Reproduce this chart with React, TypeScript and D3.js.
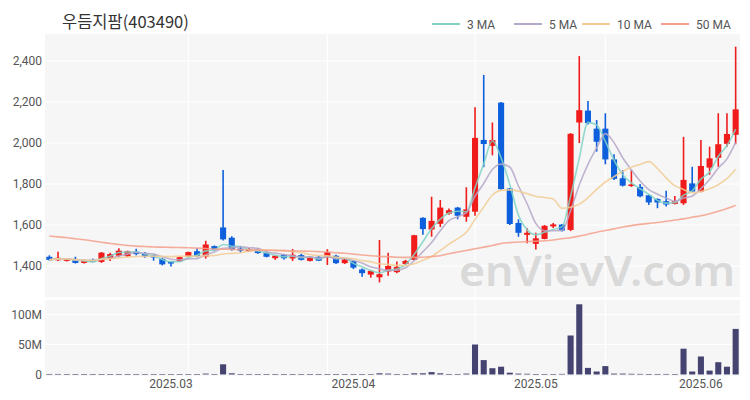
import React from 'react';
import * as d3 from 'd3';

const title = '우듬지팜(403490)';

const dates = [
  '2025-02-11','2025-02-12','2025-02-13','2025-02-14','2025-02-17','2025-02-18','2025-02-19','2025-02-20','2025-02-21','2025-02-24',
  '2025-02-25','2025-02-26','2025-02-27','2025-02-28','2025-03-04','2025-03-05','2025-03-06','2025-03-07','2025-03-10','2025-03-11',
  '2025-03-12','2025-03-13','2025-03-14','2025-03-17','2025-03-18','2025-03-19','2025-03-20','2025-03-21','2025-03-24','2025-03-25',
  '2025-03-26','2025-03-27','2025-03-28','2025-03-31','2025-04-01','2025-04-02','2025-04-03','2025-04-04','2025-04-07','2025-04-08',
  '2025-04-09','2025-04-10','2025-04-11','2025-04-14','2025-04-15','2025-04-16','2025-04-17','2025-04-18','2025-04-21','2025-04-22',
  '2025-04-23','2025-04-24','2025-04-25','2025-04-28','2025-04-29','2025-04-30','2025-05-02','2025-05-07','2025-05-08','2025-05-09',
  '2025-05-12','2025-05-13','2025-05-14','2025-05-15','2025-05-16','2025-05-19','2025-05-20','2025-05-21','2025-05-22','2025-05-23',
  '2025-05-26','2025-05-27','2025-05-28','2025-05-29','2025-05-30','2025-06-02','2025-06-04','2025-06-05','2025-06-09','2025-06-10',
];

const open = [
  1445,1428,1425,1432,1415,1430,1420,1435,1450,1448,
  1470,1462,1452,1435,1422,1423,1446,1472,1446,1497,
  1588,1538,1485,1472,1480,1466,1438,1455,1437,1453,
  1425,1445,1442,1450,1414,1424,1383,1358,1345,1373,
  1370,1410,1430,1635,1578,1606,1655,1685,1640,1665,
  2015,1986,2197,1778,1610,1552,1508,1532,1593,1602,
  1576,2100,2158,2070,2070,1920,1828,1790,1786,1745,
  1727,1716,1703,1706,1803,1763,1880,1928,1996,2040,
];
const high = [
  1452,1470,1438,1445,1428,1436,1468,1465,1486,1475,
  1484,1468,1456,1440,1425,1446,1470,1486,1523,1500,
  1868,1545,1498,1488,1485,1470,1452,1458,1483,1460,
  1448,1448,1482,1455,1436,1427,1388,1380,1527,1465,
  1422,1430,1552,1638,1738,1722,1680,1688,1784,2175,
  2332,2100,2200,1780,1628,1584,1562,1600,1610,1605,
  2048,2424,2205,2112,2145,1945,1868,1868,1800,1748,
  1730,1767,1741,2030,1884,2015,1982,2145,2145,2470,
];
const low = [
  1426,1425,1422,1412,1412,1418,1415,1425,1445,1443,
  1452,1440,1426,1403,1397,1420,1443,1443,1436,1475,
  1525,1475,1465,1468,1460,1442,1430,1432,1425,1427,
  1422,1424,1405,1410,1410,1385,1348,1343,1320,1352,
  1365,1405,1428,1552,1543,1590,1650,1628,1616,1645,
  1882,1940,1772,1600,1543,1511,1480,1530,1585,1568,
  1570,2000,2090,1958,1896,1820,1788,1786,1735,1698,
  1682,1690,1700,1698,1760,1760,1845,1884,1982,1994,
];
const close = [
  1430,1440,1435,1415,1425,1420,1465,1458,1475,1472,
  1458,1446,1442,1408,1412,1443,1468,1448,1505,1480,
  1530,1480,1475,1482,1463,1445,1450,1438,1455,1430,
  1445,1426,1468,1414,1432,1392,1365,1376,1360,1400,
  1396,1425,1550,1580,1620,1685,1672,1645,1676,2025,
  1995,2014,1775,1605,1562,1562,1535,1596,1603,1573,
  2045,2160,2097,2006,1920,1825,1792,1798,1740,1710,
  1710,1700,1716,1820,1763,1888,1925,1994,2044,2164,
];
// volume in millions of shares
const volume = [
  0.6,0.9,0.4,0.5,0.3,0.3,0.8,0.5,0.7,0.5,
  0.6,0.4,0.4,0.6,0.5,0.4,0.6,0.7,1.5,0.8,
  17,2.0,0.6,0.4,0.4,0.5,0.3,0.3,0.5,0.4,
  0.3,0.3,0.6,0.5,0.3,0.5,0.6,0.5,2.0,1.5,
  0.8,0.6,2.0,2.0,4.0,2.0,0.8,0.5,1.5,50,
  24,10.5,13,3,1.5,1.2,0.8,0.8,0.6,1.0,
  65,117,11,5,14,1.5,1.5,1.2,1.0,0.8,
  0.7,0.9,0.8,43,5,30,6.5,20.5,13,76,
];
// 50-day moving average (earlier history not shown)
const ma50 = [
  1546,1542,1538,1533,1528,1522,1516,1510,1505,1500,
  1497,1495,1493,1492,1491,1490,1489,1487,1485,1483,
  1482,1481,1480,1479,1478,1477,1476,1475,1474,1473,
  1472,1470,1468,1465,1462,1458,1454,1450,1447,1445,
  1443,1442,1442,1443,1446,1450,1460,1468,1476,1484,
  1492,1500,1510,1514,1517,1519,1521,1523,1527,1533,
  1538,1546,1555,1565,1573,1581,1590,1597,1603,1608,
  1612,1618,1624,1630,1638,1645,1655,1667,1680,1695,
];

const priceTicks = [1400, 1600, 1800, 2000, 2200, 2400];
const volumeTicks = [0, 50, 100];
const monthTickDates = ['2025-03-04', '2025-04-02', '2025-05-02', '2025-06-02'];
const monthTickLabels = ['2025.03', '2025.04', '2025.05', '2025.06'];
const gridDates = ['2025-03-06', '2025-03-28', '2025-04-22', '2025-05-16'];

const legendItems = ['3 MA', '5 MA', '10 MA', '50 MA'];
const legendColors = ['#7fd4c4', '#b5a7c8', '#f2cc95', '#f5a08b'];

const UP = '#f01b1b';
const DOWN = '#0e5fdc';
const VOL = '#454470';

function movingAvg(arr: number[], n: number) {
  return arr.map((_, i) => d3.mean(arr.slice(Math.max(0, i - n + 1), i + 1)) as number);
}

export default function App() {
  const W = 750, H = 400;
  const left = 45, right = 740;
  const pTop = 34, pBottom = 297;
  const vTop = 300, vBottom = 376;

  const x = d3.scaleBand<string>().domain(dates).range([left, right]).paddingInner(0.3).paddingOuter(0.15);
  const bw = x.bandwidth();
  const xc = (d: string) => (x(d) as number) + bw / 2;

  const y = d3.scaleLinear().domain([1400, 2400]).range([266, 61]);
  const yv = d3.scaleLinear().domain([0, 50]).range([374.5, 344.5]);

  const ma3 = movingAvg(close, 3);
  const ma5 = movingAvg(close, 5);
  const ma10 = movingAvg(close, 10);
  const maSeries = [ma3, ma5, ma10, ma50];

  const line = d3.line<number>().x((_, i) => xc(dates[i])).y((d) => y(d)).curve(d3.curveMonotoneX);

  const fmt = d3.format(',');
  const axisFont = 'Roboto, "Noto Sans", sans-serif';

  const legendX = [432, 514, 582, 661];

  return (
    <div style={{ position: 'fixed', left: 0, top: 0 }}>
      <svg width={W} height={H} style={{ display: 'block', background: '#fff' }}>
        <text x={62} y={28} fontSize={16.5} fill="#333" fontFamily='"Noto Sans CJK KR", sans-serif'>{title}</text>

        {legendItems.map((t, i) => (
          <g key={t}>
            <line x1={legendX[i]} x2={legendX[i] + 28} y1={24} y2={24} stroke={legendColors[i]} strokeWidth={2} />
            <text x={legendX[i] + 35} y={28.5} fontSize={12} fill="#555" fontFamily={axisFont}>{t}</text>
          </g>
        ))}

        {/* price panel */}
        <rect x={left} y={pTop} width={right - left} height={pBottom - pTop} fill="#f6f6f6" />
        {priceTicks.map((t) => (
          <line key={t} x1={left} x2={right} y1={y(t)} y2={y(t)} stroke="#fff" strokeWidth={1.2} />
        ))}
        {gridDates.map((d) => (
          <line key={d} x1={xc(d)} x2={xc(d)} y1={pTop} y2={pBottom} stroke="#fff" strokeWidth={1.2} />
        ))}
        {priceTicks.map((t) => (
          <text key={t} x={42} y={y(t) + 4} fontSize={12} fill="#555" textAnchor="end" fontFamily={axisFont}>{fmt(t)}</text>
        ))}

        <text x={459} y={286} fontSize={41} fill="#d9d9d9" fontFamily='"Noto Sans", sans-serif' fontWeight={600} textLength={276} lengthAdjust="spacingAndGlyphs">enVievV.com</text>

        {dates.map((d, i) => {
          const up = close[i] >= open[i];
          const c = up ? UP : DOWN;
          const top = y(Math.max(open[i], close[i]));
          const bot = y(Math.min(open[i], close[i]));
          return (
            <g key={d}>
              <line x1={xc(d)} x2={xc(d)} y1={y(high[i])} y2={y(low[i])} stroke={c} strokeWidth={1.6} />
              <rect x={x(d)} y={top} width={bw} height={Math.max(1.5, bot - top)} fill={c} />
            </g>
          );
        })}

        {maSeries.map((s, i) => (
          <path key={i} d={line(s) as string} fill="none" stroke={legendColors[i]} strokeWidth={1.6} opacity={0.85} />
        ))}

        {/* volume panel */}
        <rect x={left} y={vTop} width={right - left} height={vBottom - vTop} fill="#f6f6f6" />
        {volumeTicks.map((t) => (
          <line key={t} x1={left} x2={right} y1={yv(t)} y2={yv(t)} stroke="#fff" strokeWidth={1.2} />
        ))}
        {gridDates.map((d) => (
          <line key={d} x1={xc(d)} x2={xc(d)} y1={vTop} y2={vBottom} stroke="#fff" strokeWidth={1.2} />
        ))}
        {volumeTicks.map((t) => (
          <text key={t} x={42} y={yv(t) + 4} fontSize={12} fill="#555" textAnchor="end" fontFamily={axisFont}>{t === 0 ? '0' : `${t}M`}</text>
        ))}
        {dates.map((d, i) => (
          <rect key={d} x={x(d)} y={yv(volume[i])} width={bw} height={Math.max(0.6, yv(0) - yv(volume[i]))} fill={VOL} />
        ))}

        {monthTickDates.map((d, i) => (
          <text key={d} x={xc(d)} y={388} fontSize={12} fill="#555" textAnchor="middle" fontFamily={axisFont}>{monthTickLabels[i]}</text>
        ))}
      </svg>
    </div>
  );
}
